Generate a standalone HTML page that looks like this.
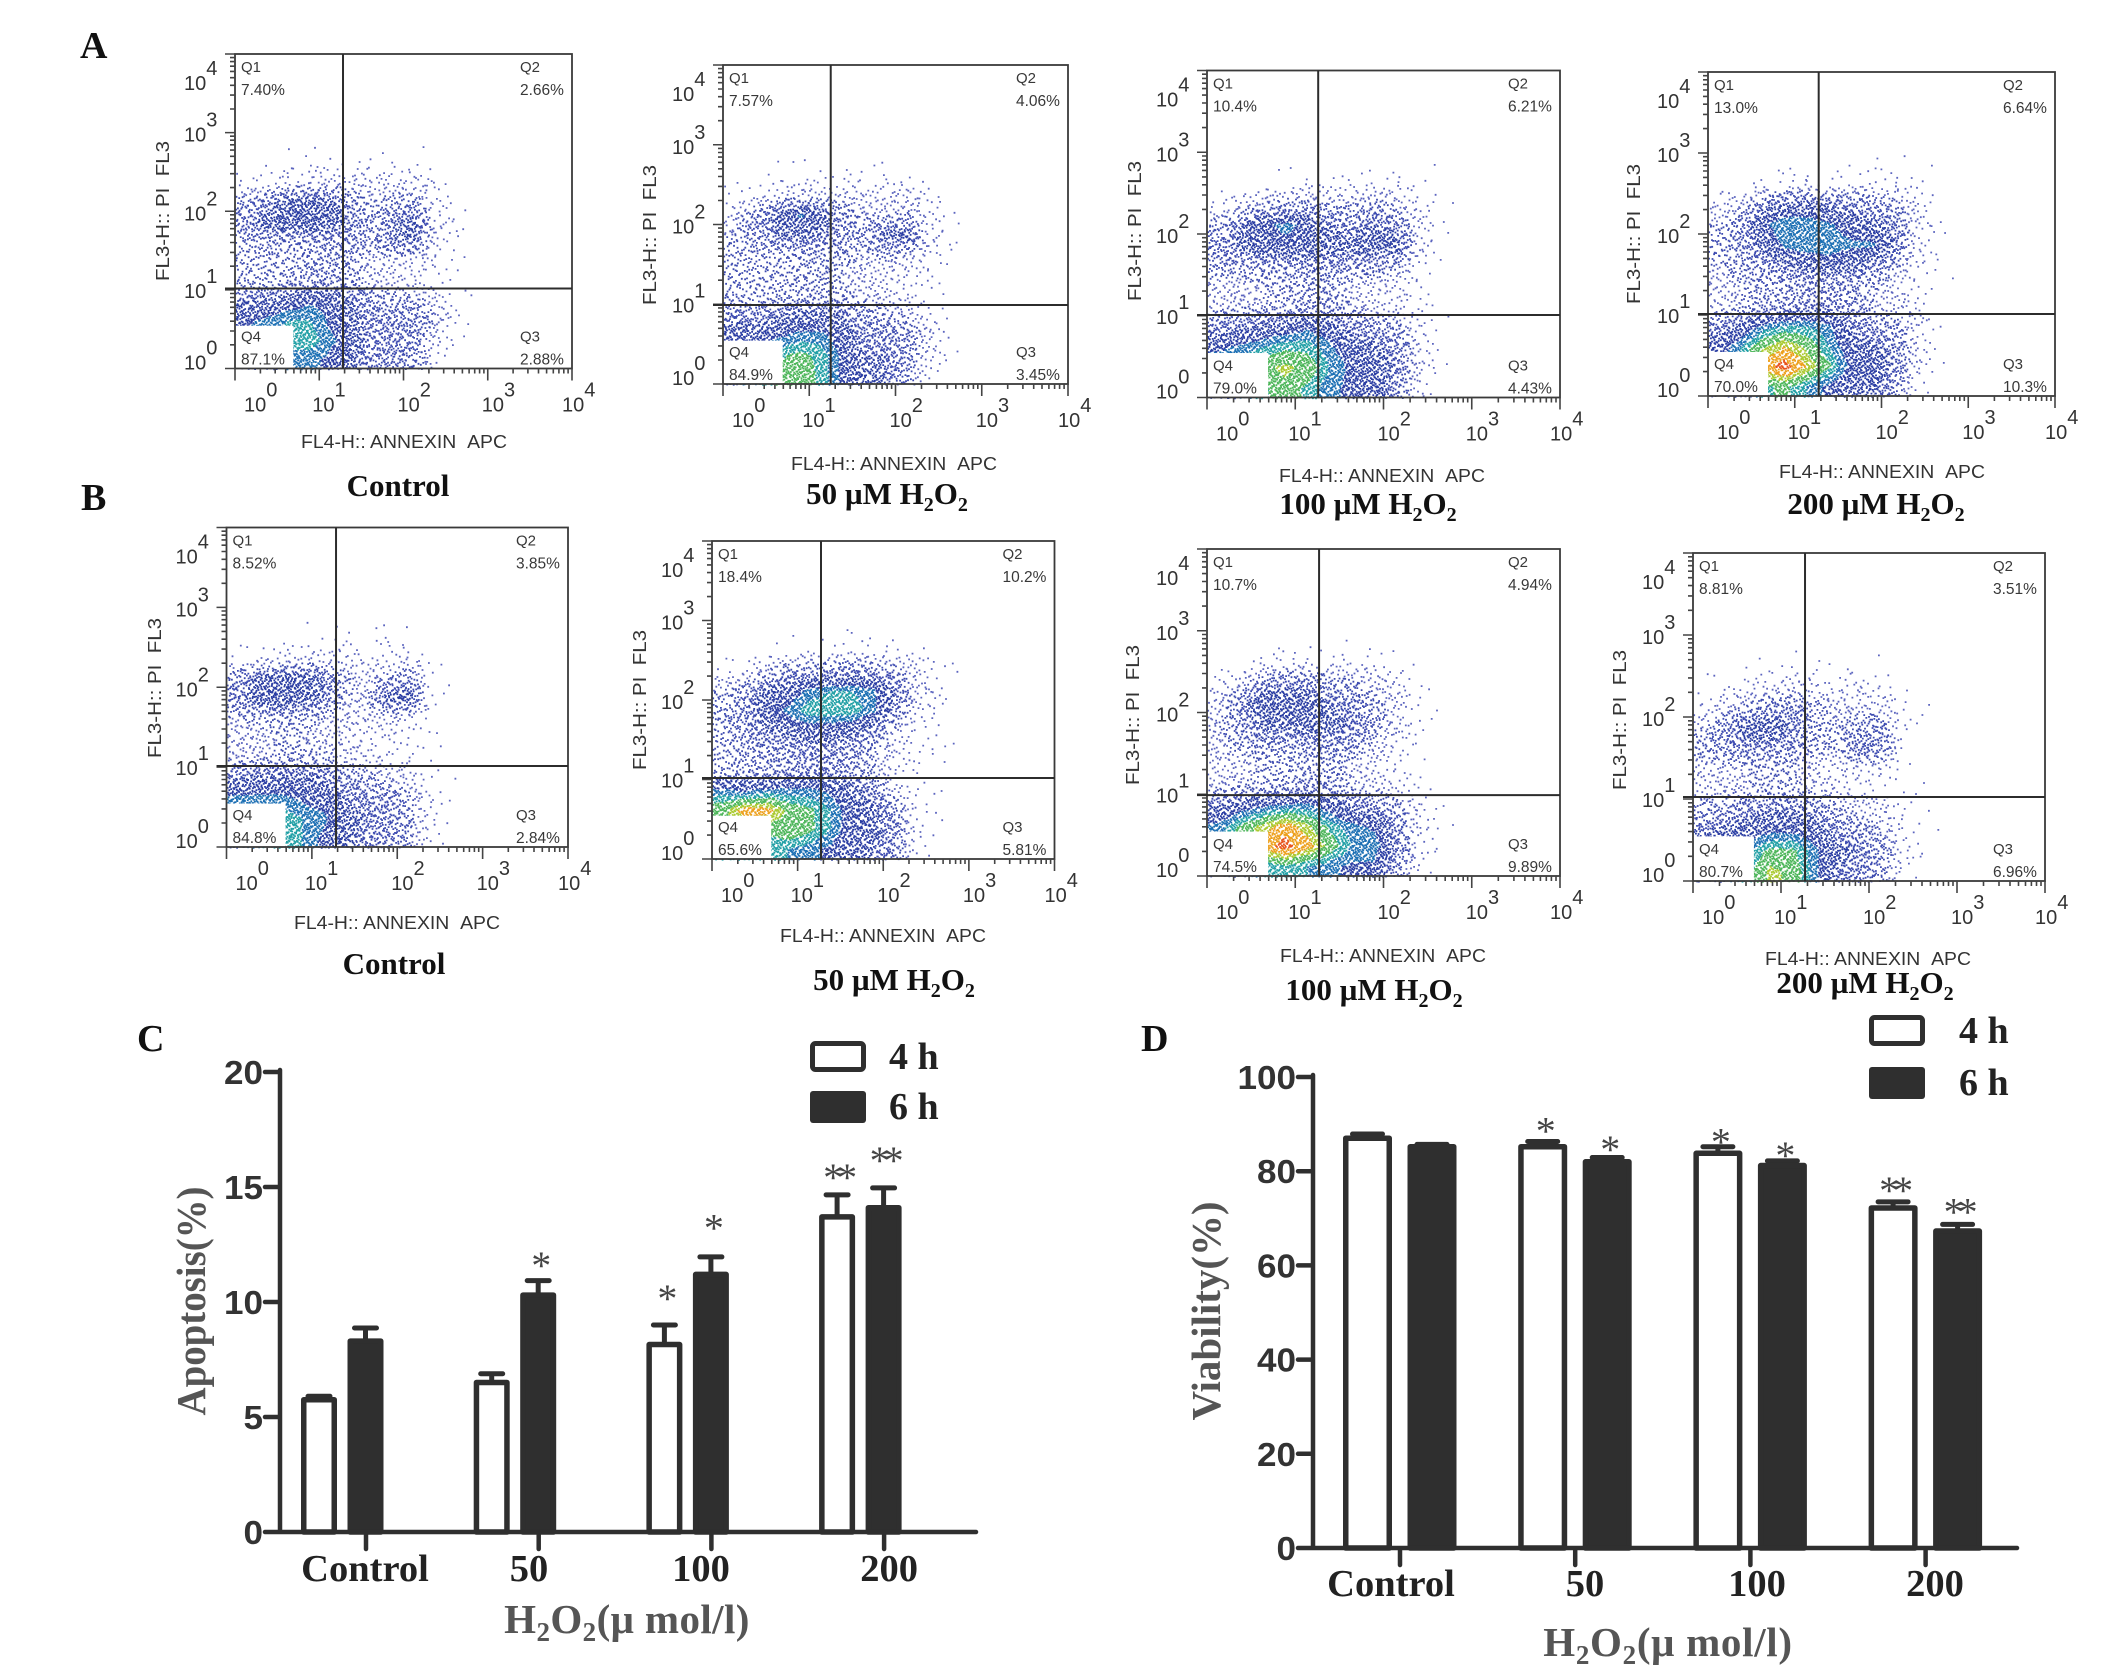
<!DOCTYPE html>
<html lang="en">
<head>
<meta charset="utf-8">
<title>Flow cytometry apoptosis and viability figure</title>
<style>
html,body{margin:0;padding:0;background:#fff;}
svg{display:block;}
.sans{font-family:"Liberation Sans",sans-serif;}
.serif{font-family:"Liberation Serif",serif;}
.letter{font-family:"Liberation Serif",serif;font-weight:bold;font-size:38px;fill:#111;}
.cap{font-family:"Liberation Serif",serif;font-weight:bold;font-size:31px;fill:#111;}
.title{font-family:"Liberation Serif",serif;font-weight:bold;font-size:41px;fill:#555;}
</style>
</head>
<body>
<svg id="figure" xmlns="http://www.w3.org/2000/svg" width="2126" height="1677" viewBox="0 0 2126 1677">
<defs><filter id="soft" x="-5%" y="-5%" width="110%" height="110%"><feGaussianBlur stdDeviation="0.35"/></filter></defs>
<rect width="2126" height="1677" fill="#fff"/>
<text class="letter" x="80" y="58">A</text>
<text class="letter" x="81" y="510">B</text>
<text class="letter" x="137" y="1051">C</text>
<text class="letter" x="1141" y="1051">D</text>

<text class="cap" x="398" y="496" text-anchor="middle">Control</text>
<text class="cap" x="887" y="504" text-anchor="middle">50 µM H<tspan font-size="20" dy="7">2</tspan><tspan dy="-7">O</tspan><tspan font-size="20" dy="7">2</tspan></text>
<text class="cap" x="1368" y="514" text-anchor="middle">100 µM H<tspan font-size="20" dy="7">2</tspan><tspan dy="-7">O</tspan><tspan font-size="20" dy="7">2</tspan></text>
<text class="cap" x="1876" y="514" text-anchor="middle">200 µM H<tspan font-size="20" dy="7">2</tspan><tspan dy="-7">O</tspan><tspan font-size="20" dy="7">2</tspan></text>
<text class="cap" x="394" y="974" text-anchor="middle">Control</text>
<text class="cap" x="894" y="990" text-anchor="middle">50 µM H<tspan font-size="20" dy="7">2</tspan><tspan dy="-7">O</tspan><tspan font-size="20" dy="7">2</tspan></text>
<text class="cap" x="1374" y="1000" text-anchor="middle">100 µM H<tspan font-size="20" dy="7">2</tspan><tspan dy="-7">O</tspan><tspan font-size="20" dy="7">2</tspan></text>
<text class="cap" x="1865" y="993" text-anchor="middle">200 µM H<tspan font-size="20" dy="7">2</tspan><tspan dy="-7">O</tspan><tspan font-size="20" dy="7">2</tspan></text>

<text class="title" x="627" y="1633" text-anchor="middle" letter-spacing="0.4">H<tspan font-size="27" dy="8">2</tspan><tspan dy="-8">O</tspan><tspan font-size="27" dy="8">2</tspan><tspan dy="-8">(μ mol/l)</tspan></text>
<text class="title" x="1668" y="1656" text-anchor="middle" letter-spacing="0.7">H<tspan font-size="27" dy="8">2</tspan><tspan dy="-8">O</tspan><tspan font-size="27" dy="8">2</tspan><tspan dy="-8">(μ mol/l)</tspan></text>
<text class="title" transform="translate(205,1301) rotate(-90)" text-anchor="middle" textLength="229" lengthAdjust="spacingAndGlyphs">Apoptosis(%)</text>
<text class="title" transform="translate(1220,1311) rotate(-90)" text-anchor="middle" textLength="219" lengthAdjust="spacingAndGlyphs">Viability(%)</text>
<g id="flow-layer"></g>
<g id="bar-layer"></g>
</svg>

<script>
// ---- Flow cytometry estimated event density.
// Rows run top to bottom from 10^3 to 10^0 in quarter decades; columns left to right from 10^0 to 10^3.
const densityA1=[
[0,0,0,0,0,0,0,0,0,0,0,0],
[0,0,.3,.3,.4,.4,.3,.3,.3,.1,0,0],
[.5,1,1.5,2,2,2,1.5,2,1.5,.5,.1,0],
[4,6,9,9,8,5,3,4,4,1.5,.3,0],
[6,9,10,10,9,6,4,7,8,2,.5,0],
[3,4,4,5,5,5,4,7,7,1.5,.3,0],
[3,3,3,4,4,4,2,2,1.5,.7,.3,0],
[3,3,4,4,5,4,2,2,1.5,.7,.1,0],
[7,8,9,10,10,7,5,4,4,2,.3,0],
[10,11,12,12,10,8,6,6,6,3,.5,0],
[11,12,13,13,11,9,6,6,5,1.5,.2,0],
[8,10,11,11,10,8,5,6,5,.7,0,0]];
const densityA2=[
[0,0,0,0,0,0,0,0,0,0,0,0],
[0,.1,.3,.4,.4,.4,.3,.3,.2,.1,0,0],
[.5,1,2,2.5,2.5,2,2,2,2,.7,.1,0],
[2,5,9,11,9,5,3,3,3.5,1.5,.2,0],
[3,5,7,8,7,5,5,8,9,1.5,.3,0],
[3,3,3,4,4,4,3,3.5,3,1,.2,0],
[3,3,3,3.5,3.5,3,2,2,1,.5,.1,0],
[3,3,3.5,4,4,3.5,2.5,2,1,.5,.1,0],
[6,6,7,8,8,7,5,4,3,1,.2,0],
[9,9,10,11,11,9,6,6,5,2,.2,0],
[12,12,13,14,13,10,7,7,5,1.5,.1,0],
[10,12,14,15,13,10,7,7,4,.7,0,0]];
const densityA3=[
[0,0,0,0,0,0,0,0,0,0,0,0],
[0,0,.3,.4,.5,.4,.5,.6,.6,.3,.05,0],
[.5,1.5,3,4,4,3,3,4,3,1,.2,0],
[4,7,10,11,10,7,6,7,6,2,.2,0],
[6,8,10,10,10,8,8,10,9,2,.2,0],
[4,4,5,5,6,6,5,5,4,1,.1,0],
[2.5,2.5,3,3,4,4,2.5,2,1.5,.5,0,0],
[2.5,3,3,4,5,5,3,2,1.5,.7,.1,0],
[6,7,8,9,10,9,6,5,4,1.5,.2,0],
[10,11,12,13,13,11,9,8,6,2,.2,0],
[12,13,15,16,15,12,10,9,7,2,.2,0],
[8,11,13,15,13,11,10,9,6,1,0,0]];
const densityA4=[
[0,0,0,0,0,0,.1,.1,.1,.05,0,0],
[0,0,.4,.7,.8,.7,.6,.9,.8,.4,.1,0],
[1.5,2.5,6,8,8,7,6,5,4,1.5,.1,0],
[3,5,10,12,12,11,9,8,6,2,.3,0],
[3,5,8,11,12,12,11,11,8,1.5,.3,0],
[3,4,5,7,8,9,8,7,4,1,.2,0],
[2.5,3,4,4,5,5,4.5,3.5,2,.5,.1,0],
[2,3,4,5,6,6,5,3,2,1,.2,0],
[6,8,11,12,12,11,7,5,4,2,.2,0],
[9,12,15,17,15,12,9,8,6,2,.3,0],
[10,13,18,20,17,14,10,10,7,2,.1,0],
[5,8,13,14,12,10,8,8,5,.7,0,0]];
const densityB1=[
[0,0,0,0,0,0,0,0,0,0,0,0],
[0,0,.1,.2,.3,.3,.2,.3,.2,0,0,0],
[.3,.7,1.2,1.5,1.5,1.5,1,1,1,.2,0,0],
[5,8,9,9,7,4,2,4,5,.5,0,0],
[6,9,10,9,7,3,3,8,9,.5,.05,0],
[3,3.5,3.5,3.5,3,2,2,2.5,1.5,.2,0,0],
[2.5,2.5,3,3,2.5,2,1,.8,.5,.1,0,0],
[3,3,3.5,4,3.5,2.5,1.5,1,.6,.2,.05,0],
[7,8,8,8,7,5,4,3,2,.5,.1,0],
[11,11,11,10,9,7,6,5,3.5,1,.05,0],
[12,13,13,12,11,8,7,6,4,1,0,0],
[10,12,13,12,10,8,6,6,3.5,.5,0,0]];
const densityB2=[
[0,0,0,0,.05,.1,.1,.05,0,0,0,0],
[0,0,.05,.2,.3,.4,.5,.7,.6,.5,.2,0],
[.3,1,3,5,5,5,6,5,4,2,.4,.1],
[3,5,8,9,11,12,12,11,7,2,.7,.1],
[4,6,9,11,13,13,13,11,6,1.5,.5,0],
[3,5,7,8,9,9,8,6,2.5,.7,.3,0],
[3,4,5,5,6,6,5,3.5,1.5,.5,.2,0],
[3,4,4,5,6,6,5,3,1,.3,.1,0],
[11,10,11,11,11,10,8,6,2,.5,.1,0],
[15,18,18,15,14,12,9,8,5,.8,.2,0],
[14,15,14,15,14,12,9,8,6,.7,.1,0],
[12,13,12,12,11,10,8,7,5,.5,0,0]];
const densityB3=[
[0,0,0,0,.05,.1,.1,.05,0,0,0,0],
[0,.1,.5,.6,.7,.5,.4,.4,.2,.05,0,0],
[.7,2,5,6,6,4.5,3.5,2.5,1.5,.3,.05,0],
[2,6,10,10,9,7,6,4,2,.4,0,0],
[3,5,8,8,9,8,7,4.5,2,.3,0,0],
[2.5,4,5,5,5.5,6,5,3,1,.2,0,0],
[2,2.5,3,3,3.5,3.5,2.5,1.5,.7,.1,0,0],
[2.5,3,3.5,4,5,5,3,2,1.2,.3,.05,0],
[7,9,10,11,11,9,7,6,4,1,.1,0],
[11,14,16,18,16,13,11,10,6,1.5,.1,0],
[12,15,18,20,18,15,12,12,7,1.5,.05,0],
[6,10,12,13,12,11,10,10,5,.7,0,0]];
const densityB4=[
[0,0,0,0,0,0,0,0,0,0,0,0],
[0,.1,.2,.3,.3,.2,.1,.1,.1,0,0,0],
[.1,.4,1,1.5,2,1.5,1.2,1.2,.8,.2,0,0],
[.7,2,4,5,6,4,2.5,2.5,2,.4,.05,0],
[3,6,9,9,7,4,3,5,5,.7,.1,0],
[4,5,6,6,5,3.5,3,7,6,.5,.1,0],
[2,2.5,3,3,3,2,1.5,1.5,1,.3,.05,0],
[2,2.5,3,3.5,3.5,2.5,1.5,1,.6,.2,.05,0],
[4,5,6,7,7,6,4,3,2,.5,.1,0],
[7,8,9,10,10,9,6,5,3,1,.1,0],
[9,10,12,14,14,11,8,7,5,1.2,.05,0],
[8,10,13,16,15,11,7,6,4,.5,0,0]];

// Printed quadrant values: Q1, Q2, Q3, Q4
const pctA1=['7.40%','2.66%','2.88%','87.1%'];
const pctA2=['7.57%','4.06%','3.45%','84.9%'];
const pctA3=['10.4%','6.21%','4.43%','79.0%'];
const pctA4=['13.0%','6.64%','10.3%','70.0%'];
const pctB1=['8.52%','3.85%','2.84%','84.8%'];
const pctB2=['18.4%','10.2%','5.81%','65.6%'];
const pctB3=['10.7%','4.94%','9.89%','74.5%'];
const pctB4=['8.81%','3.51%','6.96%','80.7%'];
// Quadrant gates in decades: [x gate, y gate]
const gateA1=[1.282,1.017];
const gateA2=[1.249,.991];
const gateA3=[1.26,1.009];
const gateA4=[1.276,1.012];
const gateB1=[1.283,1.014];
const gateB2=[1.273,1.019];
const gateB3=[1.27,.99];
const gateB4=[1.273,1.024];
const flowDecades=[0,1,2,3,4];

// ---- Bar chart data
const categories=['Control','50','100','200'];
const apoptosis4h=[5.75,6.5,8.15,13.7];
const apoptosis6h=[8.3,10.3,11.2,14.1];
const apoptosisErr4h=[.15,.38,.85,.96];
const apoptosisErr6h=[.57,.63,.76,.86];
const apoptosisStars4h=['','','*','**'];
const apoptosisStars6h=['','*','*','**'];
const apoptosisStarGap4h=[0,0,1.4,1];
const apoptosisStarGap6h=[0,.9,1.5,1.43];
const apoptosisTicks=[0,5,10,15,20];
const viability4h=[87,85.2,83.8,72.2];
const viability6h=[85.2,82,81.2,67.3];
const viabilityErr4h=[.9,1.1,1.4,1.3];
const viabilityErr6h=[.5,.9,1,1.4];
const viabilityStars4h=['','*','*','**'];
const viabilityStars6h=['','*','*','**'];
const viabilityStarGap4h=[0,3.4,2.2,3.6];
const viabilityStarGap6h=[0,2.85,2.3,3.8];
const viabilityTicks=[0,20,40,60,80,100];

const SVGNS='http://www.w3.org/2000/svg';
function make(parent,tag,attrs,text){
  const el=document.createElementNS(SVGNS,tag);
  for(const k in attrs){el.setAttribute(k,attrs[k]);}
  if(text!==undefined){el.textContent=text;}
  parent.appendChild(el);
  return el;
}
function halton(i,b){let f=1,r=0;while(i>0){f/=b;r+=f*(i%b);i=Math.floor(i/b);}return r;}

const panels=[
 {id:'a1',l:235,t:54,r:572,b:368.5,den:densityA1,pct:pctA1,gate:gateA1,xl:[404,448],yl:[169,211]},
 {id:'a2',l:723,t:65,r:1068,b:384,den:densityA2,pct:pctA2,gate:gateA2,xl:[894,470],yl:[656,235]},
 {id:'a3',l:1207,t:70.5,r:1560,b:397.5,den:densityA3,pct:pctA3,gate:gateA3,xl:[1382,482],yl:[1141,231]},
 {id:'a4',l:1708,t:72,r:2055,b:396,den:densityA4,pct:pctA4,gate:gateA4,xl:[1882,478],yl:[1640,234]},
 {id:'b1',l:226.5,t:527.5,r:568,b:847,den:densityB1,pct:pctB1,gate:gateB1,xl:[397,929],yl:[161,688]},
 {id:'b2',l:712,t:541,r:1054.5,b:859,den:densityB2,pct:pctB2,gate:gateB2,xl:[883,942],yl:[646,700]},
 {id:'b3',l:1207,t:549,r:1560,b:876,den:densityB3,pct:pctB3,gate:gateB3,xl:[1383,962],yl:[1139,715]},
 {id:'b4',l:1693,t:553,r:2045,b:881,den:densityB4,pct:pctB4,gate:gateB4,xl:[1868,965],yl:[1626,720]}
];
const levelColors=['#5c65bf','#3c4bb0','#2a3ca3','#1f6fb4','#22a0a6','#4db65a','#a9c92e','#eda01f','#e8531f'];
function levelOf(d){
  if(d<3){return 0;}
  if(d<7){return 1;}
  if(d<10.5){return 2;}
  if(d<12){return 3;}
  if(d<13.5){return 4;}
  if(d<15.5){return 5;}
  if(d<17){return 6;}
  if(d<19){return 7;}
  return 8;
}
function densityAt(grid,xDec,yDec){
  const u=Math.max(0,Math.min(11,xDec/.25-.5));
  const v=Math.max(0,Math.min(11,(3-yDec)/.25-.5));
  const c=Math.min(10,Math.floor(u)),r=Math.min(10,Math.floor(v));
  const fu=u-c,fv=v-r;
  return (grid[r][c]*(1-fu)+grid[r][c+1]*fu)*(1-fv)+(grid[r+1][c]*(1-fu)+grid[r+1][c+1]*fu)*fv;
}
const flowLayer=document.getElementById('flow-layer');
panels.forEach(function(p,pi){
  const xS=function(v){return p.l+(p.r-p.l)*v/4;};
  const yS=function(v){return p.b-(p.b-p.t)*v/4;};
  const g=make(flowLayer,'g',{});
  
  

  // scatter stipple driven by the density grid
  const paths=levelColors.map(function(){return [];});
  const count=Math.round((xS(3)-xS(0))*(yS(0)-yS(3))/4.4);
  for(let i=1;i<=count;i++){
    const n=i+pi*1777;
    const xd=halton(n,2)*3, yd=halton(n,3)*3, th=halton(n,5);
    const d=densityAt(p.den,xd,yd);
    if(th<d/11){
      const px=xS(xd),py=yS(yd);
      paths[levelOf(d)].push('M'+px.toFixed(1)+' '+py.toFixed(1)+'h1.8v1.8h-1.8z');
    }
  }
  const sg=make(g,'g',{filter:'url(#soft)'});
  
  
  paths.forEach(function(d,li){
    if(!d.length){return;}
    const path=make(sg,'path',{d:d.join(''),fill:levelColors[li]});
    
    
  });

  // Q4 label box
  const box=make(g,'rect',{x:p.l,y:p.b-(p.b-p.t)*.136,width:(p.r-p.l)*.173,height:(p.b-p.t)*.136,fill:'#fff'});
  
  

  // frame
  const frame=make(g,'rect',{x:p.l,y:p.t,width:p.r-p.l,height:p.b-p.t,fill:'none',stroke:'#3a3a3a','stroke-width':1.8});
  
  

  // ticks
  let tickPath='';
  flowDecades.forEach(function(v){
    tickPath+='M'+xS(v)+' '+p.b+'v12M'+(p.l-10)+' '+yS(v)+'h10';
    if(v<4){[2,3,4,5,6,7,8,9].forEach(function(m){
      const lv=v+Math.log10(m);
      tickPath+='M'+xS(lv).toFixed(1)+' '+p.b+'v5M'+(p.l-5)+' '+yS(lv).toFixed(1)+'h5';
    });}
  });
  const ticks=make(g,'path',{d:tickPath,stroke:'#444','stroke-width':1.6,fill:'none'});
  
  

  // gates
  const gx=xS(p.gate[0]),gy=yS(p.gate[1]);
  const gates=make(g,'path',{d:'M'+gx+' '+p.t+'V'+p.b+'M'+(p.l-10)+' '+gy+'H'+p.r,stroke:'#2c2c2c','stroke-width':2,fill:'none'});
  
  

  // quadrant labels
  const lx=p.l+6,rx=p.r-52;
  const spots=[[lx,p.t+18,'Q1',0],[rx,p.t+18,'Q2',1],[rx,p.b-27,'Q3',2],[lx,p.b-27,'Q4',3]];
  spots.forEach(function(s){
    const q=make(g,'text',{x:s[0],y:s[1],class:'sans','font-size':15,fill:'#383838'},s[2]);
    
    
    const val=make(g,'text',{x:s[0],y:s[1]+23,class:'sans','font-size':15.5,fill:'#383838'},p.pct[s[3]]);
    
    
  });

  // tick labels
  const xOff=[9,-7,-6,-6,-10], yOff=[1,8,9,9,36];
  flowDecades.forEach(function(v,i){
    const tx=make(g,'text',{x:xS(v)+xOff[i],y:p.b+43,class:'sans','font-size':20,fill:'#333'},'10');
    
    
    make(tx,'tspan',{dy:-15},String(v));
    const ty=make(g,'text',{x:p.l-51,y:(i===4?p.t:yS(v))+yOff[i],class:'sans','font-size':20,fill:'#333'},'10');
    
    
    make(ty,'tspan',{dy:-15},String(v));
  });

  // axis titles
  const xt=make(g,'text',{x:p.xl[0],y:p.xl[1],class:'sans','font-size':18.5,fill:'#333','text-anchor':'middle',textLength:206,lengthAdjust:'spacingAndGlyphs'},'FL4-H:: ANNEXIN \u00a0APC');
  
  
  const yt=make(g,'text',{transform:'translate('+p.yl[0]+','+p.yl[1]+') rotate(-90)',class:'sans','font-size':18.5,fill:'#333','text-anchor':'middle',textLength:140,lengthAdjust:'spacingAndGlyphs'},'FL3-H:: PI \u00a0FL3');
  
  
});

// ---- Bar charts
const barLayer=document.getElementById('bar-layer');
function drawBars(cfg){
  const g=make(barLayer,'g',{});
  
  
  const yS=function(v){return cfg.y0-(cfg.y0-cfg.yTop)*v/cfg.yMax;};
  const xS=function(i){return cfg.x0+cfg.step*i;};
  const ink='#2f2f2f';
  function bar(i,val,err,hollow,center,series){
    const top=yS(val),errTop=yS(val+err);
    const el=make(g,'path',{d:'M'+center+' '+top+'V'+errTop+'M'+(center-cfg.cap/2)+' '+errTop+'H'+(center+cfg.cap/2),stroke:ink,'stroke-width':5,'stroke-linecap':'round',fill:'none'});
    
    
    const sw=5.5;
    const r=make(g,'rect',{x:center-cfg.w/2+sw/2,y:top,width:cfg.w-sw,height:cfg.y0-top,fill:hollow?'#fff':ink,stroke:ink,'stroke-width':sw,'stroke-linejoin':'round'});
    
    
  }
  function stars(str,center,top,gap){
    if(!str){return;}
    const t=make(g,'text',{x:center,y:yS(top+gap)+19,class:'serif','font-size':40,fill:'#444','text-anchor':'middle','letter-spacing':-6},str);
    
    
  }
  categories.forEach(function(c,i){
    const c4=xS(i)+cfg.off4,c6=xS(i)+cfg.off6;
    bar(i,cfg.s4[i],cfg.e4[i],true,c4,'4h');
    bar(i,cfg.s6[i],cfg.e6[i],false,c6,'6h');
    stars(cfg.st4[i],c4,cfg.s4[i]+cfg.e4[i],cfg.g4[i]);
    stars(cfg.st6[i],c6,cfg.s6[i]+cfg.e6[i],cfg.g6[i]);
    const lab=make(g,'text',{x:xS(i)+cfg.labelDx[i],y:cfg.labelY,class:'serif','font-size':38.5,'font-weight':'bold',fill:'#222','text-anchor':'middle'},c);
    
    
  });
  let axisD='M'+cfg.axisX+' '+(yS(cfg.yMax)-2)+'V'+cfg.y0+'H'+cfg.xEnd;
  cfg.ticks.forEach(function(v){
    axisD+='M'+(cfg.axisX-15)+' '+yS(v)+'H'+cfg.axisX;
    const t=make(g,'text',{x:cfg.axisX-17,y:yS(v)+12,class:'sans','font-size':33,'font-weight':'bold',fill:'#333','text-anchor':'end',textLength:String(v).length*19.5,lengthAdjust:'spacingAndGlyphs'},String(v));
    
    
  });
  categories.forEach(function(c,i){axisD+='M'+xS(i)+' '+cfg.y0+'v17';});
  const axes=make(g,'path',{d:axisD,stroke:ink,'stroke-width':4.5,fill:'none','stroke-linecap':'round'});
  
  
  // legend
  const l4=make(g,'rect',{x:cfg.leg[0]+2.5,y:cfg.leg[1]+2.5,width:51,height:26,rx:3,fill:'#fff',stroke:ink,'stroke-width':5});
  
  
  const l6=make(g,'rect',{x:cfg.leg[0],y:cfg.leg[2],width:56,height:32,rx:3,fill:ink});
  
  
  const t4=make(g,'text',{x:cfg.leg[3],y:cfg.leg[1]+28,class:'serif','font-size':38,'font-weight':'bold',fill:'#222'},'4 h');
  
  
  const t6=make(g,'text',{x:cfg.leg[3],y:cfg.leg[2]+28,class:'serif','font-size':38,'font-weight':'bold',fill:'#222'},'6 h');
  
  
}
drawBars({name:'chart-c-apoptosis',s4:apoptosis4h,s6:apoptosis6h,e4:apoptosisErr4h,e6:apoptosisErr6h,st4:apoptosisStars4h,st6:apoptosisStars6h,g4:apoptosisStarGap4h,g6:apoptosisStarGap6h,ticks:apoptosisTicks,
  yMax:20,y0:1532,yTop:1072,axisX:280,xEnd:976,x0:366,step:172.7,w:36,cap:22,off4:-47,off6:-.5,
  labelDx:[-1,-9.7,-10.4,5],labelY:1581,leg:[810,1041,1091,889]});
drawBars({name:'chart-d-viability',s4:viability4h,s6:viability6h,e4:viabilityErr4h,e6:viabilityErr6h,st4:viabilityStars4h,st6:viabilityStars6h,g4:viabilityStarGap4h,g6:viabilityStarGap6h,ticks:viabilityTicks,
  yMax:100,y0:1548,yTop:1077,axisX:1313,xEnd:2017,x0:1400,step:175.2,w:49,cap:30,off4:-32.5,off6:32,
  labelDx:[-9,9.8,6.6,9.4],labelY:1596,leg:[1869,1015,1067,1959]});
</script>
</body>
</html>
